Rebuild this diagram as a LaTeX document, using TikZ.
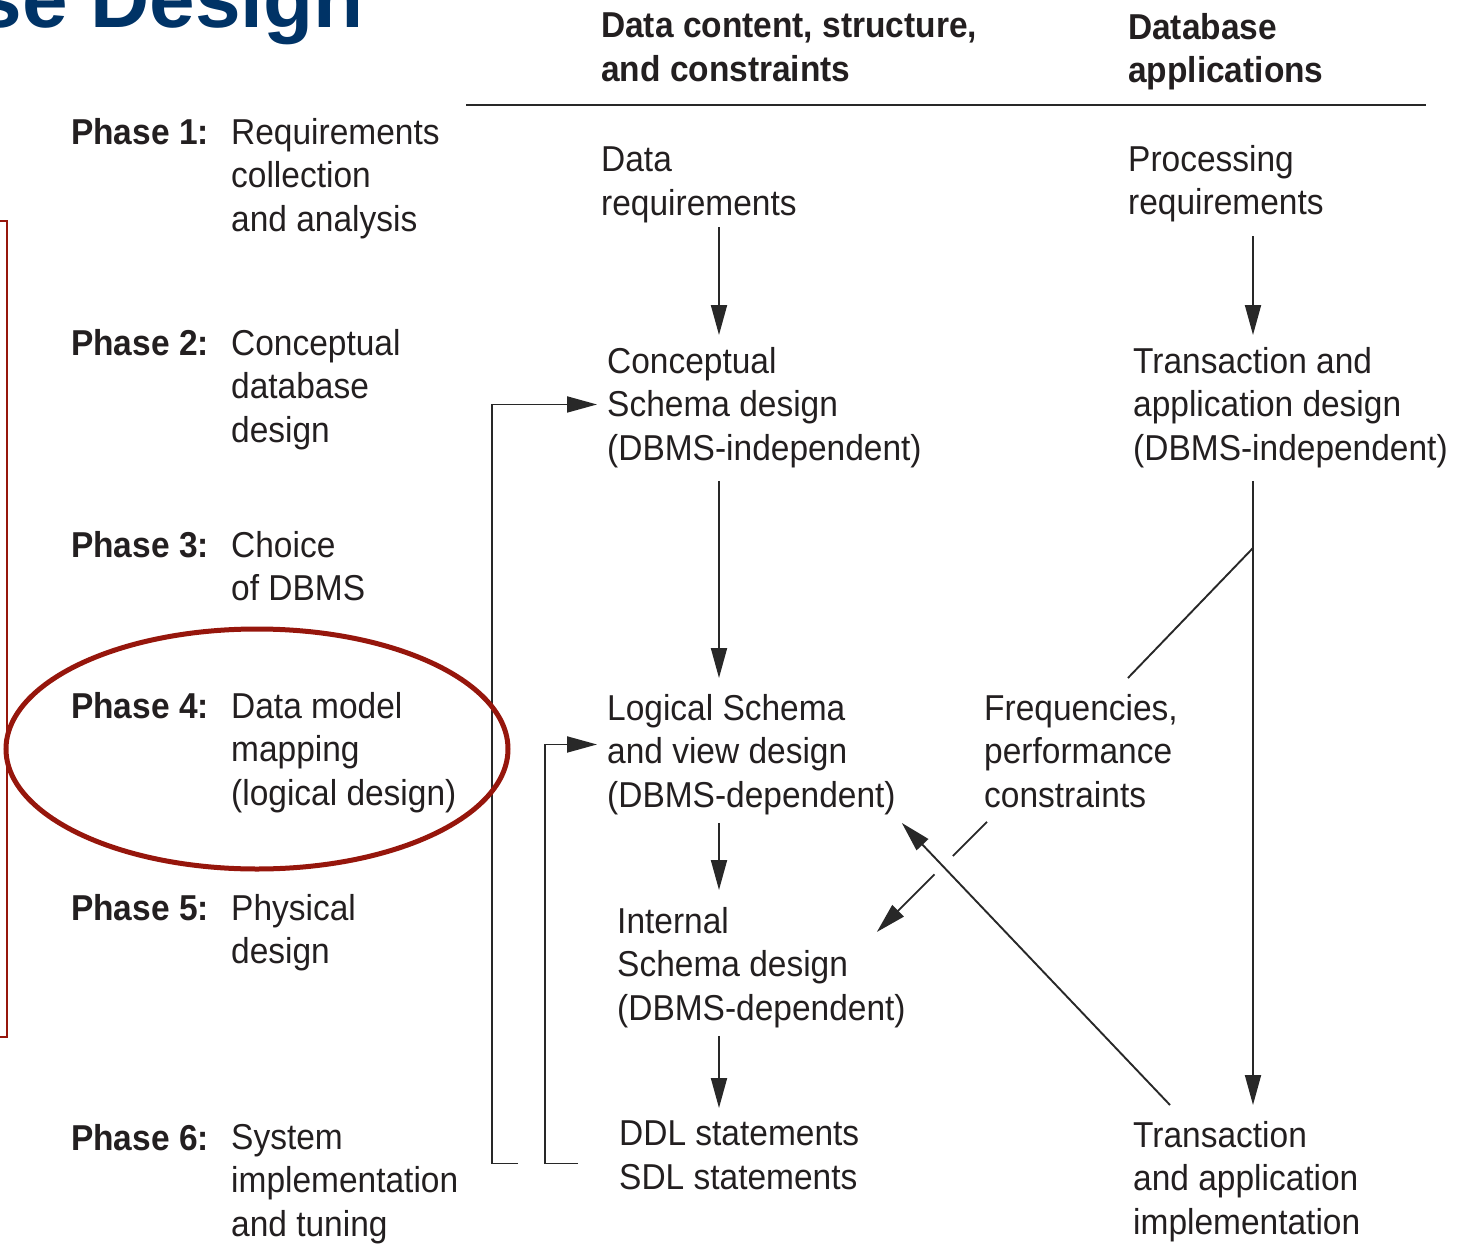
\documentclass[tikz,border=0pt]{standalone}
\usepackage{fontspec}
\setmainfont{Liberation Sans}[FakeStretch=0.93]
\newfontfamily\titlefont{Liberation Sans}
\usepackage{tikz}
\usetikzlibrary{positioning, calc, arrows.meta}

\definecolor{ink}{RGB}{35,31,32}
\definecolor{wire}{RGB}{40,40,40}
\definecolor{ring}{RGB}{150,22,12}
\definecolor{slideblue}{RGB}{0,51,102}

\begin{document}
\begin{tikzpicture}[
					x=1pt, y=-1pt,
					txt/.style={anchor=north west, yshift=26pt, align=left, inner sep=0pt, text=ink,
						font=\fontsize{36}{43.5}\selectfont},
					hd/.style={txt, font=\fontsize{36}{43.5}\selectfont\bfseries},
					ln/.style={draw=wire, line width=1.9pt},
					arr/.style={ln, -{Triangle[length=30pt,width=16pt]}},
					redline/.style={draw=ring, line width=1.6pt},
					redring/.style={draw=ring, line width=5pt}
					]
					\useasboundingbox (0,0) rectangle (1468,1244);
					
					% Slide title
					\node [anchor=base east, inner sep=0pt, text=slideblue,
						font=\titlefont\fontsize{82}{90}\selectfont\bfseries] (Title) at (364,28) {se Design};
					
					% Column headers
					\node [hd] (HeadData) at (601,39) {Data content, structure,\\and constraints};
					\node [hd] (HeadApp) at (1128,39) {Database\\applications};
					\draw [ln] (466,105) -- (1426,105);
					
					% Phases
					\node [hd] (Phase1) at (71,144) {Phase 1:};
					\node [txt] (Task1) at (231,144) {Requirements\\collection\\and analysis};
					\node [hd] (Phase2) at (71,355) {Phase 2:};
					\node [txt] (Task2) at (231,355) {Conceptual\\database\\design};
					\node [hd] (Phase3) at (71,557) {Phase 3:};
					\node [txt] (Task3) at (231,557) {Choice\\of DBMS};
					\node [hd] (Phase4) at (71,718) {Phase 4:};
					\node [txt] (Task4) at (231,718) {Data model\\mapping\\(logical design)};
					\node [hd] (Phase5) at (71,920) {Phase 5:};
					\node [txt] (Task5) at (231,920) {Physical\\design};
					\node [hd] (Phase6) at (71,1150) {Phase 6:};
					\node [txt] (Task6) at (231,1150) {System\\implementation\\and tuning};
					
					% Data side
					\node [txt] (DataReq) at (601,173) {Data\\requirements};
					\node [txt] (ConcSchema) at (607,373) {Conceptual\\Schema design\\(DBMS-independent)};
					\node [txt] (LogSchema) at (607,720) {Logical Schema\\and view design\\(DBMS-dependent)};
					\node [txt] (IntSchema) at (617,933) {Internal\\Schema design\\(DBMS-dependent)};
					\node [txt] (DDL) at (619,1147) {DDL statements\\SDL statements};
					
					% Application side
					\node [txt] (ProcReq) at (1128,171) {Processing\\requirements};
					\node [txt] (TransDesign) at (1133,373) {Transaction and\\application design\\(DBMS-independent)};
					\node [txt] (Freq) at (984,720) {Frequencies,\\performance\\constraints};
					\node [txt] (TransImpl) at (1133,1147) {Transaction\\and application\\implementation};
					
					% Columns and free ends
					\coordinate (ColA) at (719,0);
					\coordinate (ColB) at (1253,0);
					\coordinate (Branch) at (1253,548);
					\coordinate (FreqTail) at ($(Freq.south west)+(3,14)$);
					\coordinate (FreqHead) at ($(IntSchema.north east)+(-29,25)$);
					
					% Edges
					\draw [arr] ($(DataReq.south -| ColA)+(0,4)$) -- ($(ConcSchema.north -| ColA)+(0,-12)$);
					\draw [arr] ($(ConcSchema.south -| ColA)+(0,13)$) -- ($(LogSchema.north -| ColA)+(0,-16)$);
					\draw [arr] ($(LogSchema.south -| ColA)+(0,8)$) -- ($(IntSchema.north -| ColA)+(0,-17)$);
					\draw [arr] ($(IntSchema.south -| ColA)+(0,8)$) -- ($(DDL.north -| ColA)+(0,-13)$);
					\draw [arr] ($(ProcReq.south -| ColB)+(0,14)$) -- ($(TransDesign.north -| ColB)+(0,-12)$);
					\draw [arr] ($(TransDesign.south -| ColB)+(0,13)$) -- ($(TransImpl.north -| ColB)+(0,-16)$);
					\draw [arr] ($(DDL.west)+(-101,8)$) -- ++(-26,0) |- ($(ConcSchema.west)+(-10,-3)$);
					\draw [arr] ($(DDL.west)+(-41,8)$) -- ++(-33,0) |- ($(LogSchema.west)+(-10,-10)$);
					\draw [ln] (Branch) -- ($(Freq.north east)+(-50,-16)$);
					\draw [ln] (FreqTail) -- ($(FreqTail)!0.31!(FreqHead)$);
					\draw [arr] ($(FreqTail)!0.477!(FreqHead)$) -- (FreqHead);
					\draw [arr] ($(TransImpl.north west)+(37,-16)$) -- ($(LogSchema.south east)+(6,8)$);
					
					% Highlight marks
					\draw [redline] (-20,221) rectangle (7,1037);
					\draw [redring] (257,749) ellipse [x radius=251, y radius=120];
				\end{tikzpicture}
\end{document}
